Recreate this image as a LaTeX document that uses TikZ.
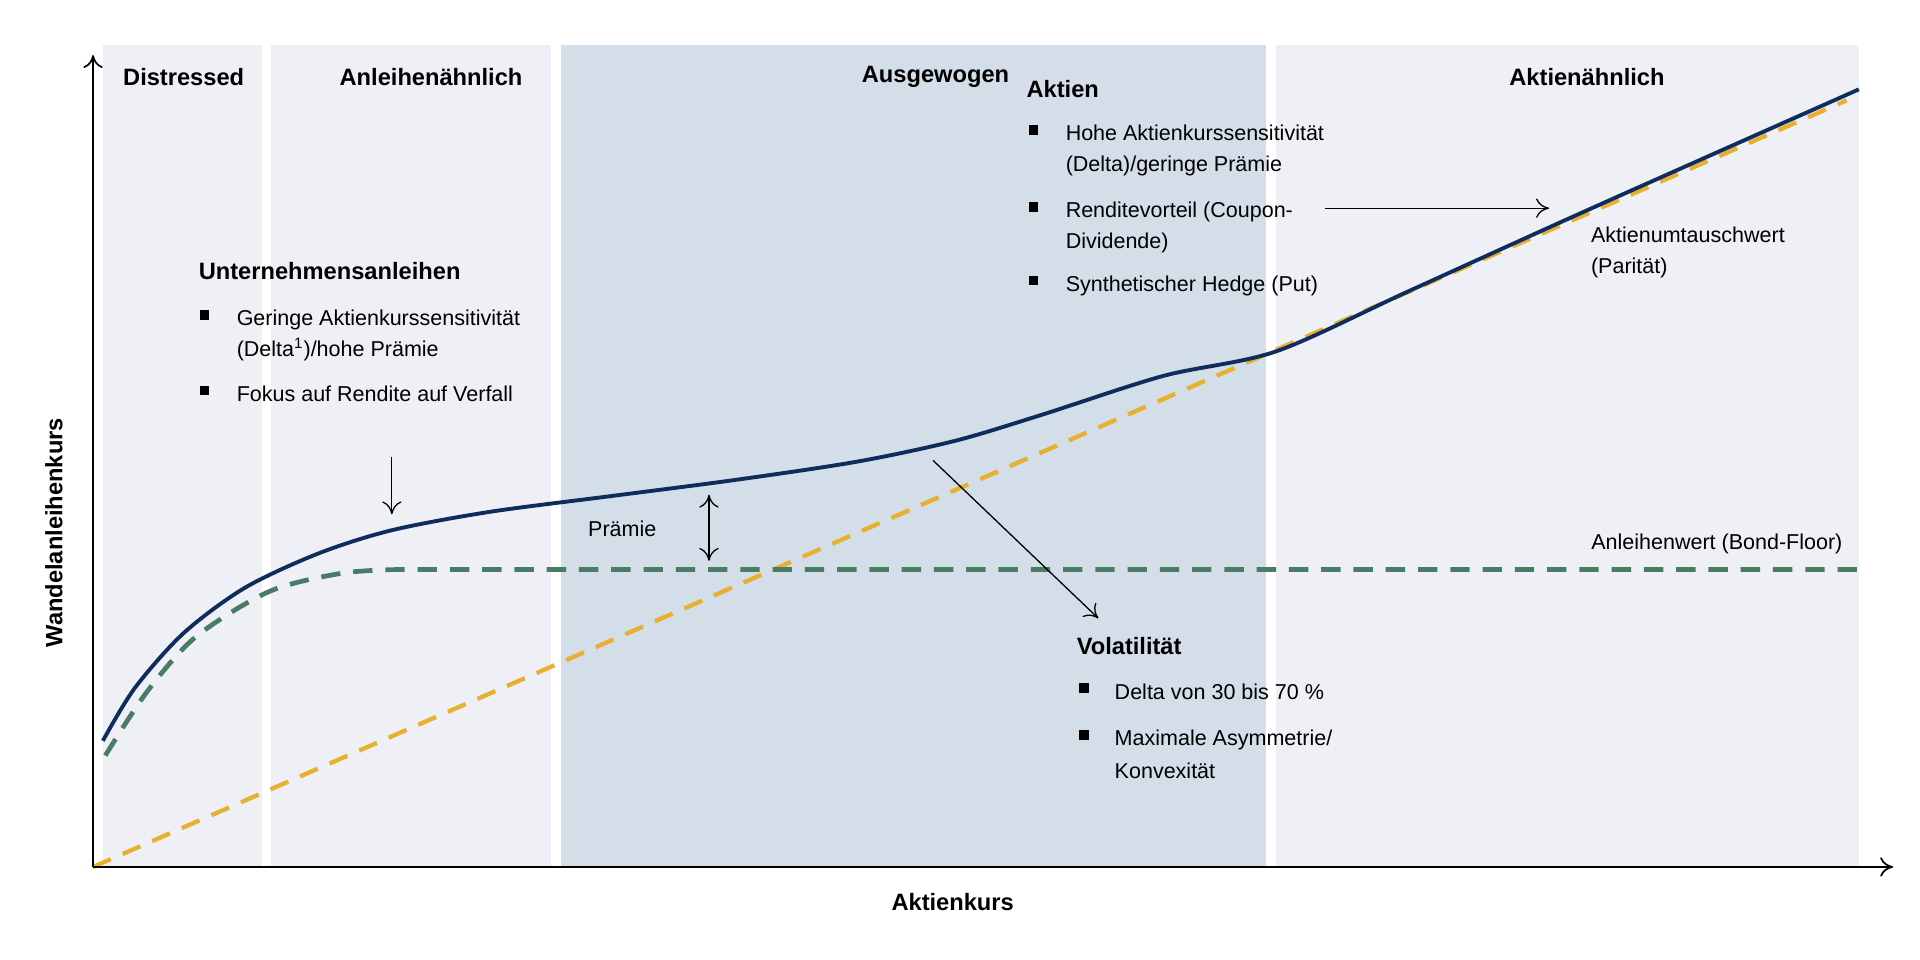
\documentclass[tikz,border=0pt]{standalone}
\usepackage{fontspec}
\setmainfont{Liberation Sans}
\usetikzlibrary{arrows.meta}
\begin{document}
\begin{tikzpicture}[x=0.02cm,y=-0.02cm,
  head/.style={font=\bfseries\fontsize{11}{13}\selectfont,inner sep=0},
  txt/.style={font=\fontsize{10}{12.5}\selectfont,inner sep=0,anchor=base west},
  bul/.style={fill=black,minimum size=4.5pt,inner sep=0},
  arr/.style={-{To[length=6pt,width=9pt]},line width=0.6pt}]
\definecolor{panelgray}{HTML}{EFF0F5}
\definecolor{panelblue}{HTML}{D3DEE8}
\definecolor{navy}{HTML}{0E2D5E}
\definecolor{floorgreen}{HTML}{4A7C65}
\definecolor{parorange}{HTML}{E8B030}
\useasboundingbox (0,0) rectangle (1568,784);
\fill[panelgray] (84,37) rectangle (214,708);
\fill[panelgray] (221,37) rectangle (450,708);
\fill[panelblue] (458,37) rectangle (1034,708);
\fill[panelgray] (1042,37) rectangle (1518,708);
% curves
\draw[parorange,line width=2pt,dash pattern=on 9pt off 6pt] (76,708) -- (1508,82);
\draw[floorgreen,line width=2.2pt,dash pattern=on 9pt off 6pt] plot[smooth] coordinates {(86,617) (120,565) (160,520) (220,483) (280,468) (330,465)} -- (1518,465);
\draw[navy,line width=1.8pt] plot[smooth] coordinates {(84,605) (110,562) (150,517) (200,480) (260,452) (320,433) (400,418) (500,405) (600,392) (700,377) (780,360) (850,339) (950,307) (1042,287) (1150,238) (1300,170) (1518,73)};
% axes
\coordinate (o) at (76,708);
\coordinate (ytop) at (76,45);
\coordinate (xend) at (1546,708);
\draw[arr,line width=0.8pt] (o) -- (ytop);
\draw[arr,line width=0.8pt] (o) -- (xend);
% region heads
\node[head] (h1) at (150,63) {Distressed};
\node[head] (h2) at (352,63) {Anleihenähnlich};
\node[head] (h3) at (764,63) {Ausgewogen};
\node[head] (h4) at (1296,63) {Aktienähnlich};
\node[head,anchor=west] (h5) at (838,73) {Aktien};
% Aktien bullets
\node[bul] (b1) at (844,106) {}; \node[txt] (t1) at (870,115) {Hohe Aktienkurssensitivität};
\node[txt] (t1b) at (870,140) {(Delta)/geringe Prämie};
\node[bul] (b2) at (844,169) {}; \node[txt] (t2) at (870,178) {Renditevorteil (Coupon-};
\node[txt] (t2b) at (870,203) {Dividende)};
\node[bul] (b3) at (844,229) {}; \node[txt] (t3) at (870,238) {Synthetischer Hedge (Put)};
\coordinate (a1s) at (1082,170); \coordinate (a1e) at (1265,170);
\draw[arr] (a1s) -- (a1e);
\node[txt] (par1) at (1299,198) {Aktienumtauschwert};
\node[txt] (par2) at (1299,223) {(Parität)};
% Unternehmensanleihen
\node[head,anchor=west] (h6) at (162,221) {Unternehmensanleihen};
\node[bul] (b4) at (167,257) {}; \node[txt] (t4) at (193,266) {Geringe Aktienkurssensitivität};
\node[txt] (t4b) at (193,291) {(Delta\textsuperscript{1})/hohe Prämie};
\node[bul] (b5) at (167,319) {}; \node[txt] (t5) at (193,328) {Fokus auf Rendite auf Verfall};
\coordinate (d1) at (320,373); \coordinate (d2) at (320,420);
\draw[arr] (d1) -- (d2);
\node[txt] (pr) at (480,438) {Prämie};
\coordinate (p1) at (579,404); \coordinate (p2) at (579,458);
\draw[arr,{To[length=6pt,width=9pt]}-{To[length=6pt,width=9pt]}] (p1) -- (p2);
\node[txt,anchor=base east] (bf) at (1505,449) {Anleihenwert (Bond-Floor)};
\coordinate (v1) at (762,376); \coordinate (v2) at (897,505);
\draw[arr] (v1) -- (v2);
% Volatilitaet
\node[head,anchor=west] (h7) at (879,528) {Volatilität};
\node[bul] (b6) at (885,562) {}; \node[txt] (t6) at (910,571) {Delta von 30 bis 70 \%};
\node[bul] (b7) at (885,600) {}; \node[txt] (t7) at (910,609) {Maximale Asymmetrie/};
\node[txt] (t7b) at (910,636) {Konvexität};
% axis labels
\node[head] (xl) at (778,737) {Aktienkurs};
\node[head,rotate=90] (yl) at (44,435) {Wandelanleihenkurs};
\end{tikzpicture}
\end{document}
